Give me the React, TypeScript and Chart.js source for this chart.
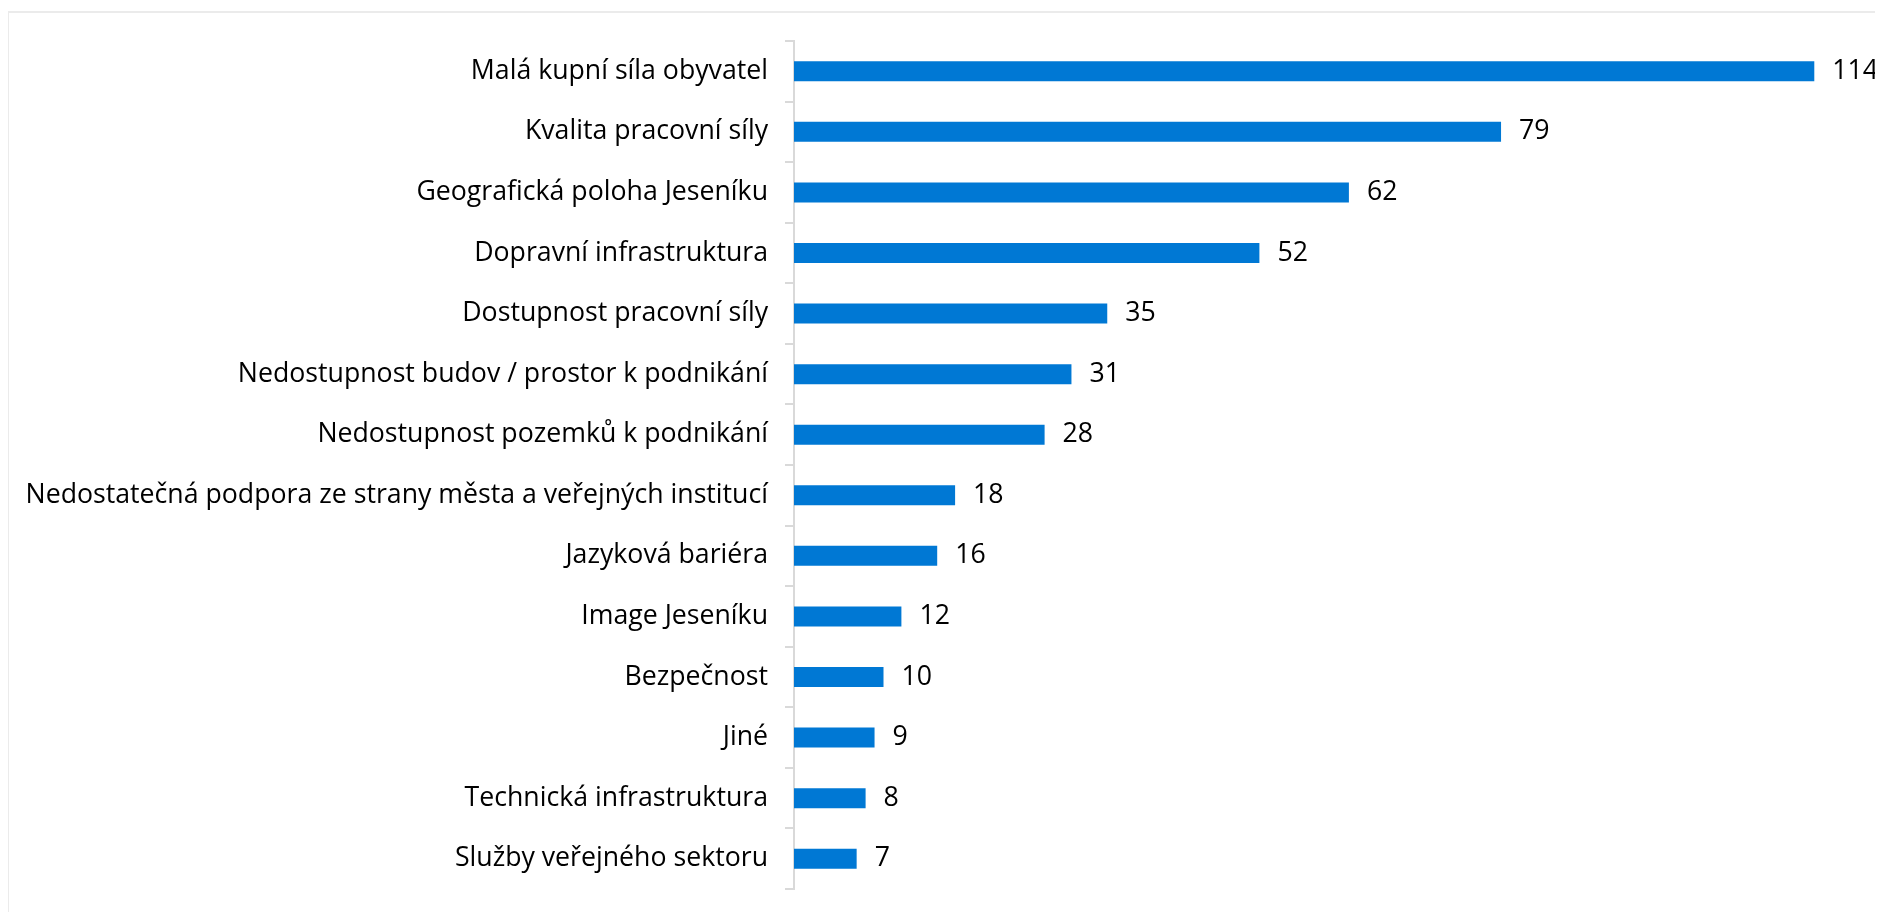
import React, { useEffect, useRef } from "react";
import { Chart, registerables } from "chart.js";

Chart.register(...registerables);

const categories = [
  "Malá kupní síla obyvatel",
  "Kvalita pracovní síly",
  "Geografická poloha Jeseníku",
  "Dopravní infrastruktura",
  "Dostupnost pracovní síly",
  "Nedostupnost budov / prostor k podnikání",
  "Nedostupnost pozemků k podnikání",
  "Nedostatečná podpora ze strany města a veřejných institucí",
  "Jazyková bariéra",
  "Image Jeseníku",
  "Bezpečnost",
  "Jiné",
  "Technická infrastruktura",
  "Služby veřejného sektoru",
];

const values = [114, 79, 62, 52, 35, 31, 28, 18, 16, 12, 10, 9, 8, 7];

const FONT = "'Open Sans', 'Noto Sans', sans-serif";
const BAR_COLOR = "#0078d4";
const AXIS_COLOR = "#d9d9d9";

const valueLabels = {
  id: "valueLabels",
  afterDatasetsDraw(chart: any) {
    const ctx = chart.ctx;
    const meta = chart.getDatasetMeta(0);
    ctx.save();
    ctx.font = `26.7px ${FONT}`;
    ctx.fillStyle = "#000";
    ctx.textAlign = "left";
    ctx.textBaseline = "middle";
    meta.data.forEach((bar: any, i: number) => {
      ctx.fillText(String(values[i]), bar.x + 18, bar.y);
    });
    ctx.restore();
  },
};

export default function App() {
  const ref = useRef<HTMLCanvasElement | null>(null);

  useEffect(() => {
    if (!ref.current) return;
    const chart = new Chart(ref.current, {
      type: "bar",
      data: {
        labels: categories,
        datasets: [
          {
            data: values,
            backgroundColor: BAR_COLOR,
            borderWidth: 0,
            categoryPercentage: 1,
            barPercentage: 0.33,
          },
        ],
      },
      options: {
        indexAxis: "y",
        responsive: false,
        animation: false,
        layout: { padding: { left: 0, right: 15, top: 33, bottom: 23 } },
        plugins: {
          legend: { display: false },
          tooltip: { enabled: false },
        },
        scales: {
          x: {
            display: false,
            min: 0,
            max: 120,
          },
          y: {
            afterFit: (scale: any) => {
              scale.width = 786;
              scale.paddingTop = 0;
              scale.paddingBottom = 0;
            },
            grid: {
              display: true,
              drawOnChartArea: false,
              drawTicks: true,
              tickLength: 9,
              color: AXIS_COLOR,
              lineWidth: 2,
              offset: true,
            },
            border: { display: true, color: AXIS_COLOR, width: 2 },
            ticks: {
              padding: 17,
              color: "#000",
              font: { family: FONT, size: 26.7 },
            },
          },
        },
      },
      plugins: [valueLabels],
    });
    return () => chart.destroy();
  }, []);

  return (
    <div style={{ position: "relative", height: 904, overflow: "hidden" }}>
      <div
        style={{
          position: "absolute",
          left: -1,
          top: 3,
          width: 3000,
          height: 2000,
          borderTop: "2px solid #ebebeb",
          borderLeft: "2px solid #ebebeb",
        }}
      />
      <canvas
        ref={ref}
        width={1875}
        height={904}
        style={{ position: "absolute", left: 0, top: 0, width: 1875, height: 904 }}
      />
    </div>
  );
}
